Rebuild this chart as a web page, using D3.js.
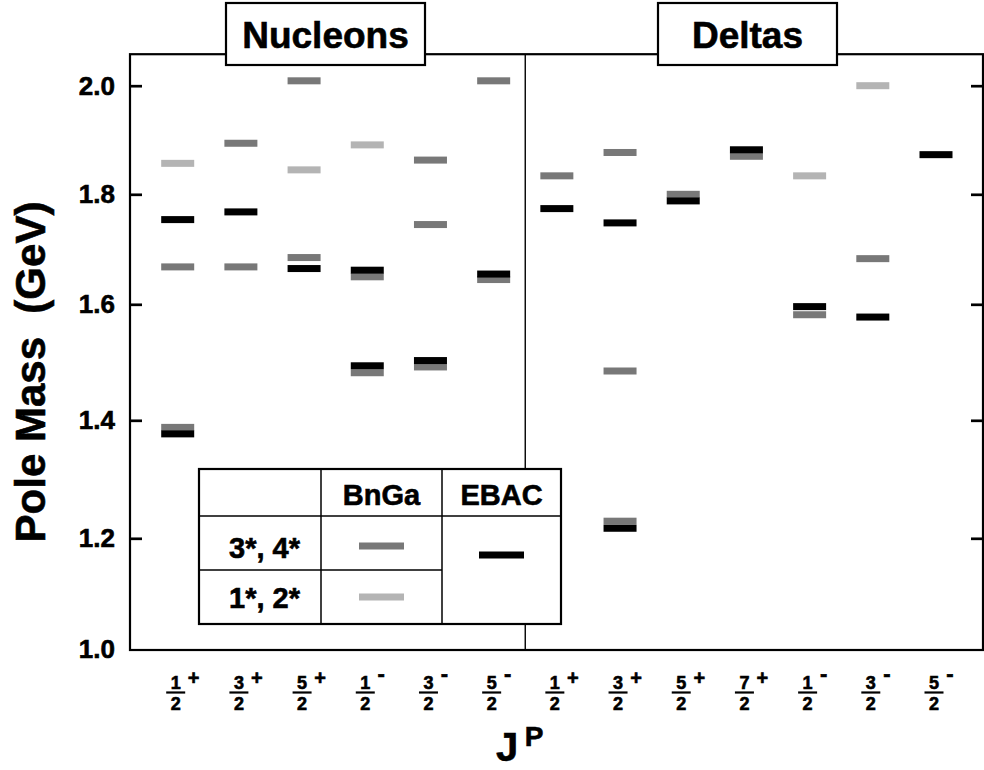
<!DOCTYPE html>
<html>
<head>
<meta charset="utf-8">
<script src="https://cdn.jsdelivr.net/npm/d3@7"></script>
<style>
  body { margin: 0; background: #fff; }
  svg { display: block; }
  text { font-family: "Liberation Sans", Arial, sans-serif; font-weight: bold; fill: #000;
         stroke: #000; stroke-width: 0.6px; }
</style>
</head>
<body>
<div id="chart"></div>
<script>
// columns: J^P for nucleons (N) then deltas (D)
const columns = ["N1/2+", "N3/2+", "N5/2+", "N1/2-", "N3/2-", "N5/2-",
                 "D1/2+", "D3/2+", "D5/2+", "D7/2+", "D1/2-", "D3/2-", "D5/2-"];
const numerators = ["1", "3", "5", "1", "3", "5", "1", "3", "5", "7", "1", "3", "5"];
const parities = ["+", "+", "+", "-", "-", "-", "+", "+", "+", "+", "-", "-", "-"];
const massTicks = [1.0, 1.2, 1.4, 1.6, 1.8, 2.0];

// BnGa 3*, 4* states (GeV)
const bngaStrong = [
  ["N1/2+", 1.668], ["N1/2+", 1.388],
  ["N3/2+", 1.894], ["N3/2+", 1.668],
  ["N5/2+", 2.009], ["N5/2+", 1.685],
  ["N1/2-", 1.650], ["N1/2-", 1.482],
  ["N3/2-", 1.863], ["N3/2-", 1.745], ["N3/2-", 1.492],
  ["N5/2-", 2.009], ["N5/2-", 1.645],
  ["D1/2+", 1.834],
  ["D3/2+", 1.877], ["D3/2+", 1.485], ["D3/2+", 1.229],
  ["D5/2+", 1.800],
  ["D7/2+", 1.870],
  ["D1/2-", 1.582],
  ["D3/2-", 1.683]
];
// BnGa 1*, 2* states
const bngaWeak = [
  ["N1/2+", 1.857], ["N5/2+", 1.845], ["N1/2-", 1.891],
  ["D1/2-", 1.834], ["D3/2-", 2.000]
];
// EBAC poles
const ebac = [
  ["N1/2+", 1.754], ["N1/2+", 1.377],
  ["N3/2+", 1.768],
  ["N5/2+", 1.665],
  ["N1/2-", 1.662], ["N1/2-", 1.494],
  ["N3/2-", 1.503],
  ["N5/2-", 1.655],
  ["D1/2+", 1.774],
  ["D3/2+", 1.748], ["D3/2+", 1.217],
  ["D5/2+", 1.788],
  ["D7/2+", 1.882],
  ["D1/2-", 1.596],
  ["D3/2-", 1.578],
  ["D5/2-", 1.873]
];

const colors = { strong: "#787878", weak: "#b4b4b4", ebac: "#000" };

const W = 984, H = 770;
const frameLeft = 130, frameRight = 983, frameBottom = 650;
const barW = 33, barH = 7;

const svg = d3.select("#chart").append("svg")
  .attr("width", W).attr("height", H);

const y = d3.scaleLinear()
  .domain(massTicks)
  .range([650, 538.3, 420.3, 304.3, 194.3, 85.7]);

const x = d3.scalePoint()
  .domain(columns)
  .range([177.7, 936]);

const frameTop = y(2.058);

// frame
svg.append("rect")
  .attr("x", frameLeft).attr("y", frameTop)
  .attr("width", frameRight - frameLeft).attr("height", frameBottom - frameTop)
  .attr("fill", "none").attr("stroke", "#000").attr("stroke-width", 2.2);

// divider between nucleons and deltas
const divX = (x("N5/2-") + x("D1/2+")) / 2;
svg.append("line")
  .attr("x1", divX).attr("x2", divX)
  .attr("y1", frameTop).attr("y2", frameBottom)
  .attr("stroke", "#000").attr("stroke-width", 1.4);

// axes
const yAxis = d3.axisLeft(y)
  .tickValues(massTicks.slice(1))
  .tickSize(-12)
  .tickPadding(15)
  .tickFormat(d3.format(".1f"));

const leftAxis = svg.append("g")
  .attr("transform", `translate(${frameLeft},0)`)
  .call(yAxis);
leftAxis.select(".domain").remove();
leftAxis.selectAll("line").attr("stroke-width", 2.7);
leftAxis.selectAll("text")
  .attr("font-size", 26)
  .style("font-family", "'Liberation Sans', Arial, sans-serif")
  .style("font-weight", "bold");

// 1.0 label sits at the bottom edge
svg.append("text")
  .attr("x", frameLeft - 15).attr("y", y(1.0))
  .attr("dy", "0.32em")
  .attr("text-anchor", "end")
  .attr("font-size", 26)
  .text(d3.format(".1f")(1.0));

const rightAxis = svg.append("g")
  .attr("transform", `translate(${frameRight},0)`)
  .call(d3.axisRight(y).tickValues(massTicks.slice(1)).tickSize(-12).tickFormat(""));
rightAxis.select(".domain").remove();
rightAxis.selectAll("line").attr("stroke-width", 2.7);

// bars
function drawBars(data, color) {
  svg.append("g").selectAll("rect")
    .data(data)
    .join("rect")
      .attr("x", d => x(d[0]) - barW / 2)
      .attr("y", d => y(d[1]) - barH / 2)
      .attr("width", barW)
      .attr("height", barH)
      .attr("fill", color);
}
drawBars(bngaWeak, colors.weak);
drawBars(bngaStrong, colors.strong);
drawBars(ebac, colors.ebac);

// group titles
const titles = [
  { text: "Nucleons", x: 226, w: 199 },
  { text: "Deltas", x: 658, w: 179 }
];
titles.forEach(t => {
  svg.append("rect")
    .attr("x", t.x).attr("y", 3).attr("width", t.w).attr("height", 62)
    .attr("fill", "#fff").attr("stroke", "#000").attr("stroke-width", 2.2);
  svg.append("text")
    .attr("x", t.x + t.w / 2).attr("y", 48)
    .attr("text-anchor", "middle")
    .attr("font-size", 37)
    .text(t.text);
});

// x tick labels: fractions with parity
const xl = svg.append("g").selectAll("g")
  .data(columns)
  .join("g")
    .attr("transform", d => `translate(${x(d) - 2},0)`);
xl.append("text")
  .attr("y", 689).attr("text-anchor", "middle").attr("font-size", 18)
  .text((d, i) => numerators[i]);
xl.append("line")
  .attr("x1", -9.5).attr("x2", 9.5).attr("y1", 692.5).attr("y2", 692.5)
  .attr("stroke", "#000").attr("stroke-width", 2.2);
xl.append("text")
  .attr("y", 710).attr("text-anchor", "middle").attr("font-size", 18)
  .text("2");
xl.append("text")
  .attr("x", (d, i) => parities[i] === "+" ? 18 : 16)
  .attr("y", (d, i) => parities[i] === "+" ? 685 : 681)
  .attr("text-anchor", "middle")
  .attr("font-size", (d, i) => parities[i] === "+" ? 20 : 22)
  .text((d, i) => parities[i]);

// axis titles
svg.append("text")
  .attr("x", 507).attr("y", 761)
  .attr("text-anchor", "middle").attr("font-size", 40)
  .text("J");
svg.append("text")
  .attr("x", 534).attr("y", 746)
  .attr("text-anchor", "middle").attr("font-size", 28)
  .text("P");

svg.append("text")
  .attr("transform", "translate(45,372) rotate(-90)")
  .attr("text-anchor", "middle")
  .attr("font-size", 42)
  .style("white-space", "pre")
  .text("Pole Mass  (GeV)");

// legend table
const lx = [199, 321, 442, 561], ly = [469, 516, 570, 624];
const legend = svg.append("g");
legend.append("rect")
  .attr("x", lx[0]).attr("y", ly[0])
  .attr("width", lx[3] - lx[0]).attr("height", ly[3] - ly[0])
  .attr("fill", "#fff").attr("stroke", "#000").attr("stroke-width", 2.2);
const gridLines = [
  [lx[1], ly[0], lx[1], ly[3]],
  [lx[2], ly[0], lx[2], ly[3]],
  [lx[0], ly[1], lx[3], ly[1]],
  [lx[0], ly[2], lx[2], ly[2]]
];
legend.selectAll("line.grid")
  .data(gridLines)
  .join("line")
    .attr("class", "grid")
    .attr("x1", d => d[0]).attr("y1", d => d[1])
    .attr("x2", d => d[2]).attr("y2", d => d[3])
    .attr("stroke", "#000").attr("stroke-width", 1.5);

legend.append("text")
  .attr("x", (lx[1] + lx[2]) / 2).attr("y", 505)
  .attr("text-anchor", "middle").attr("font-size", 29).text("BnGa");
legend.append("text")
  .attr("x", (lx[2] + lx[3]) / 2).attr("y", 505)
  .attr("text-anchor", "middle").attr("font-size", 29).text("EBAC");
legend.append("text")
  .attr("x", 300).attr("y", 558)
  .attr("text-anchor", "end").attr("font-size", 29).text("3*, 4*");
legend.append("text")
  .attr("x", 300).attr("y", 608)
  .attr("text-anchor", "end").attr("font-size", 29).text("1*, 2*");

const swatches = [
  { cx: (lx[1] + lx[2]) / 2, cy: 546, color: colors.strong },
  { cx: (lx[1] + lx[2]) / 2, cy: 597, color: colors.weak },
  { cx: (lx[2] + lx[3]) / 2, cy: 555, color: colors.ebac }
];
legend.selectAll("rect.swatch")
  .data(swatches)
  .join("rect")
    .attr("class", "swatch")
    .attr("x", d => d.cx - 22.5).attr("y", d => d.cy - barH / 2)
    .attr("width", 45).attr("height", barH)
    .attr("fill", d => d.color);
</script>
</body>
</html>
